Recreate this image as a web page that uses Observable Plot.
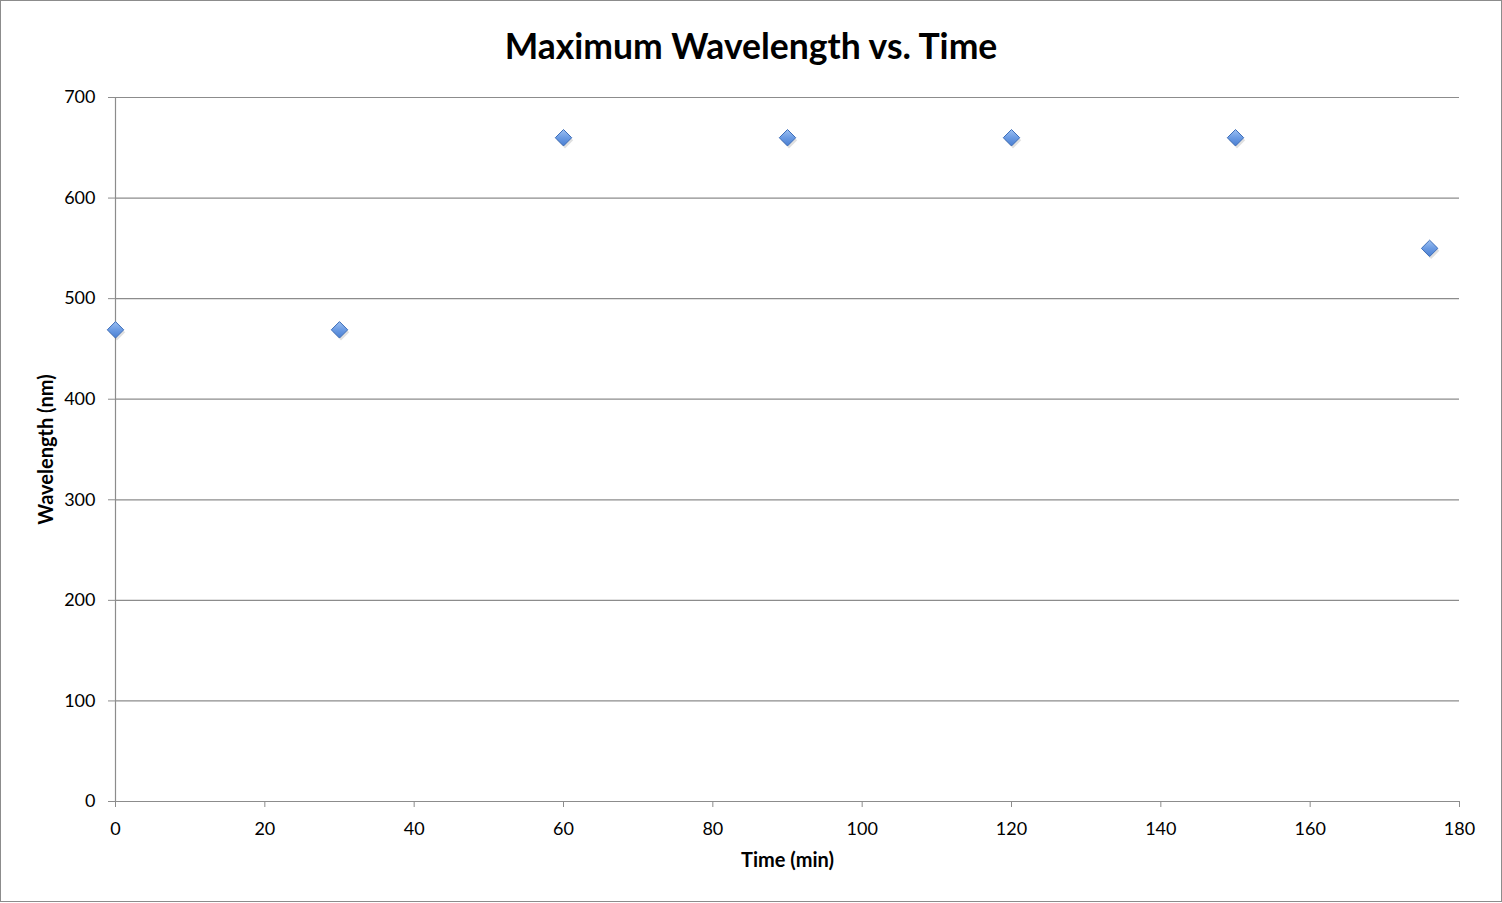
<!DOCTYPE html>
<html>
<head>
<meta charset="utf-8">
<script src="https://cdn.jsdelivr.net/npm/d3@7"></script>
<script src="https://cdn.jsdelivr.net/npm/@observablehq/plot@0.6"></script>
<style>
  html, body { margin: 0; padding: 0; background: #fff; }
  #frame { position: absolute; left: 0; top: 0; width: 1500px; height: 900px; border: 1px solid #8c8c8c; background: #fff; }
  #title { position: absolute; left: 0; top: 26px; width: 1502px; text-align: center; font-family: Lato, "Open Sans", sans-serif; font-weight: bold; font-size: 35.5px; color: #000; line-height: 40px; }
  #chart { position: absolute; left: 0; top: 62px; }
</style>
</head>
<body>
<div id="frame"></div>
<div id="title">Maximum Wavelength vs. Time</div>
<div id="chart"></div>
<script>
const times = [0, 30, 60, 90, 120, 150, 176];
const wavelengths = [469, 469, 660, 660, 660, 660, 550];
const xTicks = [0, 20, 40, 60, 80, 100, 120, 140, 160, 180];
const yTicks = [0, 100, 200, 300, 400, 500, 600, 700];
const xLabel = "Time (min)";
const yLabel = "Wavelength (nm)";

const data = times.map((t, i) => ({time: t, wavelength: wavelengths[i]}));

const plot = Plot.plot({
  width: 1502,
  height: 830,
  marginLeft: 115,
  marginRight: 43,
  marginTop: 35,
  marginBottom: 91,
  style: {fontFamily: "Lato, 'Open Sans', sans-serif", fontSize: "18px", color: "#000", background: "transparent"},
  x: {domain: [0, 180]},
  y: {domain: [0, 700]},
  marks: [
    Plot.gridY(yTicks, {stroke: "#8c8c8c", strokeOpacity: 1, strokeWidth: 1.2}),
    Plot.ruleX([0], {stroke: "#8c8c8c", strokeWidth: 1.2}),
    Plot.ruleY([0], {stroke: "#8c8c8c", strokeWidth: 1.2}),
    Plot.axisY(yTicks, {tickSize: 7, tickPadding: 13, stroke: "#8c8c8c", label: null, fontSize: 18}),
    Plot.axisX(xTicks, {tickSize: 6, tickPadding: 15, stroke: "#8c8c8c", label: null, fontSize: 18}),
    Plot.dot(data, {x: "time", y: "wavelength", symbol: "diamond2", r: 7.4, fill: "#000", fillOpacity: 0.12, stroke: "none", dx: 1.5, dy: 2.5}),
    Plot.dot(data, {x: "time", y: "wavelength", symbol: "diamond2", r: 7.4, fill: "url(#diamondGrad)", stroke: "#3d6db8", strokeWidth: 1}),
    Plot.text([xLabel], {frameAnchor: "bottom", dy: 65, fontWeight: "bold", fontSize: 20}),
    Plot.text([yLabel], {frameAnchor: "left", dx: -69, rotate: -90, textAnchor: "middle", fontWeight: "bold", fontSize: 20})
  ]
});

const ns = "http://www.w3.org/2000/svg";
const defs = document.createElementNS(ns, "defs");
defs.innerHTML = '<linearGradient id="diamondGrad" x1="0" y1="0" x2="0" y2="1"><stop offset="0" stop-color="#9cc0f2"/><stop offset="0.5" stop-color="#6b9be3"/><stop offset="1" stop-color="#4a7fd2"/></linearGradient>';
plot.insertBefore(defs, plot.firstChild);
document.getElementById("chart").appendChild(plot);
</script>
</body>
</html>
